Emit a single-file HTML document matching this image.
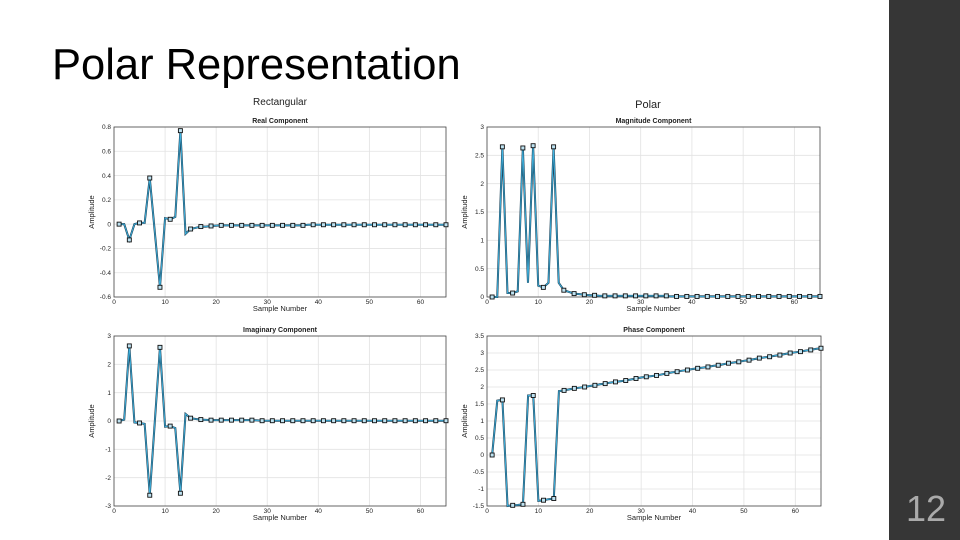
<!DOCTYPE html>
<html><head><meta charset="utf-8"><style>
html,body{margin:0;padding:0;background:#fff;width:960px;height:540px;overflow:hidden;font-family:"Liberation Sans",sans-serif}
#title{position:absolute;left:52px;top:41px;font-size:43.5px;color:#000}
#side{position:absolute;left:889px;top:0;width:71px;height:540px;background:#363636}
#num{position:absolute;left:906px;top:488px;font-size:36px;color:#aaa}
svg{position:absolute;left:0;top:0}
</style></head><body>
<div id="title">Polar Representation</div>
<div id="side"></div>
<div id="num">12</div>
<svg id="chart" width="960" height="540"></svg>
<script>
const realVals=[0,0,-0.13,0,0.01,0.01,0.38,-0.07,-0.52,0.05,0.04,0.06,0.77,-0.08,-0.04,-0.03,-0.02,-0.02,-0.015,-0.012,-0.01,-0.01,-0.01,-0.01,-0.01,-0.01,-0.01,-0.01,-0.01,-0.01,-0.01,-0.01,-0.01,-0.01,-0.01,-0.01,-0.01,-0.005,-0.005,-0.005,-0.005,-0.005,-0.005,-0.005,-0.005,-0.005,-0.005,-0.005,-0.005,-0.005,-0.005,-0.005,-0.005,-0.005,-0.005,-0.005,-0.005,-0.005,-0.005,-0.005,-0.005,-0.005,-0.005,-0.005,-0.005];
const magVals=[0,0,2.65,0.07,0.07,0.1,2.63,0.25,2.67,0.2,0.17,0.25,2.65,0.25,0.12,0.09,0.06,0.05,0.04,0.03,0.03,0.02,0.02,0.02,0.02,0.02,0.02,0.02,0.02,0.02,0.02,0.02,0.02,0.02,0.02,0.01,0.01,0.01,0.01,0.01,0.01,0.01,0.01,0.01,0.01,0.01,0.01,0.01,0.01,0.01,0.01,0.01,0.01,0.01,0.01,0.01,0.01,0.01,0.01,0.01,0.01,0.01,0.01,0.01,0.01];
const imagVals=[0,0.05,2.65,-0.05,-0.07,-0.1,-2.62,0,2.6,-0.2,-0.18,-0.25,-2.55,0.25,0.1,0.07,0.05,0.04,0.03,0.03,0.03,0.03,0.03,0.03,0.03,0.03,0.03,0.02,0.01,0.01,0.01,0.01,0.01,0.01,0.01,0.01,0.01,0.01,0.01,0.01,0.01,0.01,0.01,0.01,0.01,0.01,0.01,0.01,0.01,0.01,0.01,0.01,0.01,0.01,0.01,0.01,0.01,0.01,0.01,0.01,0.01,0.01,0.01,0.01,0.01];
const phaseVals=[0,1.6,1.62,-1.5,-1.48,-1.47,-1.45,1.75,1.75,-1.35,-1.33,-1.3,-1.28,1.88,1.9,1.93,1.96,1.98,2.0,2.03,2.05,2.08,2.1,2.13,2.15,2.17,2.19,2.22,2.25,2.28,2.3,2.32,2.34,2.37,2.4,2.43,2.45,2.48,2.5,2.53,2.55,2.57,2.59,2.62,2.64,2.67,2.7,2.72,2.74,2.77,2.79,2.82,2.85,2.87,2.89,2.92,2.94,2.97,3.0,3.02,3.04,3.07,3.09,3.12,3.14];
const xTicks=[0,10,20,30,40,50,60];
const realTicks=[-0.6,-0.4,-0.2,0,0.2,0.4,0.6,0.8];
const realLabels=["-0.6","-0.4","-0.2","0","0.2","0.4","0.6","0.8"];
const magTicks=[0,0.5,1,1.5,2,2.5,3];
const imagTicks=[-3,-2,-1,0,1,2,3];
const phaseTicks=[-1.5,-1,-0.5,0,0.5,1,1.5,2,2.5,3,3.5];

const NS="http://www.w3.org/2000/svg";
const svg=document.getElementById('chart');
function mk(tag,attrs,parent){const e=document.createElementNS(NS,tag);for(const k in attrs)e.setAttribute(k,attrs[k]);(parent||svg).appendChild(e);return e;}
function txt(x,y,s,size,anchor,weight,parent){const t=mk('text',{x:x,y:y,'font-size':size,'text-anchor':anchor||'middle','font-family':'Liberation Sans, sans-serif','font-weight':weight||'normal',fill:'#222'},parent);t.textContent=s;return t;}

function plot(name,box,ymin,ymax,yticks,ylabels,vals,title,showXLabel){
  const g=mk('g',{});
  
  
  const X=v=>box.l+(v-0)/(65-0)*(box.r-box.l);
  const Y=v=>box.b-(v-ymin)/(ymax-ymin)*(box.b-box.t);
  mk('rect',{x:box.l,y:box.t,width:box.r-box.l,height:box.b-box.t,fill:'#fff'},g);
  xTicks.forEach(t=>{
    const gl=mk('line',{x1:X(t),x2:X(t),y1:box.t,y2:box.b,stroke:'#e2e2e2','stroke-width':0.8},g);
    
    
    const lb=txt(X(t),box.b+7,String(t),6.5,'middle','normal',g);
    
    
  });
  yticks.forEach((t,i)=>{
    const gl=mk('line',{x1:box.l,x2:box.r,y1:Y(t),y2:Y(t),stroke:'#e2e2e2','stroke-width':0.8},g);
    
    
    const lb=txt(box.l-3,Y(t)+2.2,ylabels?ylabels[i]:String(t),6.5,'end','normal',g);
    
    
  });
  mk('rect',{x:box.l,y:box.t,width:box.r-box.l,height:box.b-box.t,fill:'none',stroke:'#444','stroke-width':0.8},g);
  const pts=vals.map((v,i)=>X(i+1)+','+Y(v)).join(' ');
  mk('polyline',{points:pts,fill:'none',stroke:'#1a3f55','stroke-width':2},g);
  const ln=mk('polyline',{points:pts,fill:'none',stroke:'#3fb3e0','stroke-width':0.9},g);
  
  
  vals.forEach((v,i)=>{
    if(i%2!==0)return;
    const m=mk('rect',{x:X(i+1)-2,y:Y(v)-2,width:4,height:4,fill:'#bfe3f2',stroke:'#111','stroke-width':0.9},g);
    
    
  });
  const tt=txt((box.l+box.r)/2,box.t-4,title,7,'middle','bold',g);
  
  
  if(showXLabel){
    const xl=txt((box.l+box.r)/2,box.b+14,'Sample Number',7.5,'middle','normal',g);
    
    
  }
  const cy=(box.t+box.b)/2, cx=box.l-20;
  const yl=mk('text',{x:cx,y:cy,'font-size':7.5,'text-anchor':'middle','font-family':'Liberation Sans, sans-serif',fill:'#222',transform:'rotate(-90 '+cx+' '+cy+')'},g);
  yl.textContent='Amplitude';
  
  
}
const h1=txt(280,105,'Rectangular',10);


const h2=txt(648,108,'Polar',11);


plot('real-component-plot',{l:114,r:446,t:127,b:297},-0.6,0.8,realTicks,realLabels,realVals,'Real Component',true);
plot('magnitude-component-plot',{l:487,r:820,t:127,b:297},0,3,magTicks,null,magVals,'Magnitude Component',true);
plot('imaginary-component-plot',{l:114,r:446,t:336,b:506},-3,3,imagTicks,null,imagVals,'Imaginary Component',true);
plot('phase-component-plot',{l:487,r:821,t:336,b:506},-1.5,3.5,phaseTicks,null,phaseVals,'Phase Component',true);
</script>
</body></html>
